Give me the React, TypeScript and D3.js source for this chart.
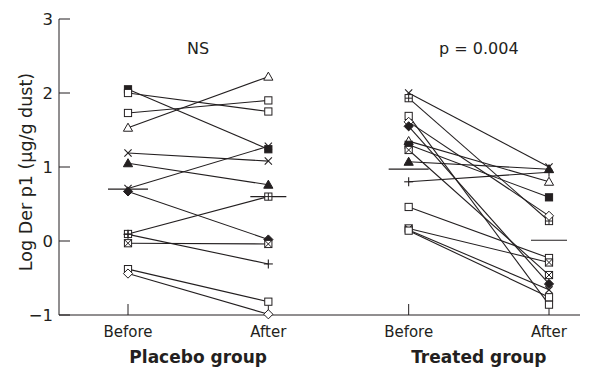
import React from "react";
import * as d3 from "d3";

const groupNames = ["Placebo group", "Treated group"];
const timeLabels = ["Before", "After"];
const yTicks = [-1, 0, 1, 2, 3];
const pValueLabels = ["NS", "p = 0.004"];

const placeboBefore = [2.05, 2.0, 1.73, 1.53, 1.19, 1.05, 0.71, 0.67, 0.095, 0.09, -0.03, -0.38, -0.44];
const placeboAfter = [1.24, 1.75, 1.9, 2.22, 1.08, 0.76, 1.28, 0.02, 0.6, -0.31, -0.04, -0.82, -0.99];
const placeboSymbols = ["sqf", "sq", "sq", "tri", "x", "trif", "x", "diaf", "sqplus", "plus", "sqx", "sq", "dia"];
const placeboMedians = [0.7, 0.6];

const treatedBefore = [2.0, 1.93, 1.69, 1.61, 1.55, 1.35, 1.3, 1.23, 1.07, 0.8, 0.46, 0.17, 0.15, 0.14];
const treatedAfter = [1.0, 0.27, -0.86, 0.34, -0.58, 0.8, 0.59, -0.46, 0.97, 0.93, -0.23, -0.29, -0.66, -0.76];
const treatedSymbols = ["x", "sqplus", "sq", "dia", "diaf", "tri", "sqf", "sqx", "trif", "plus", "sq", "sqx", "x", "sq"];
const treatedMedians = [0.97, 0.01];

const W = 605;
const H = 371;
const INK = "#231f20";
const FONT = "'DejaVu Sans', sans-serif";

function Sym({ type, x, y }: { type: string; x: number; y: number }) {
  const s = 3.6;
  const sw = 1;
  switch (type) {
    case "sq":
    case "sqf":
      return <rect x={x - s} y={y - s} width={2 * s} height={2 * s} fill={type === "sqf" ? INK : "white"} stroke={INK} strokeWidth={sw} />;
    case "sqplus":
      return (
        <g stroke={INK} strokeWidth={sw}>
          <rect x={x - s} y={y - s} width={2 * s} height={2 * s} fill="white" />
          <line x1={x - s} x2={x + s} y1={y} y2={y} />
          <line x1={x} x2={x} y1={y - s} y2={y + s} />
        </g>
      );
    case "sqx":
      return (
        <g stroke={INK} strokeWidth={sw}>
          <rect x={x - s} y={y - s} width={2 * s} height={2 * s} fill="white" />
          <line x1={x - s} x2={x + s} y1={y - s} y2={y + s} />
          <line x1={x - s} x2={x + s} y1={y + s} y2={y - s} />
        </g>
      );
    case "tri":
    case "trif": {
      const t = 4.6;
      const p = `M${x},${y - t} L${x + t},${y + t * 0.75} L${x - t},${y + t * 0.75} Z`;
      return <path d={p} fill={type === "trif" ? INK : "white"} stroke={INK} strokeWidth={sw} />;
    }
    case "dia":
    case "diaf": {
      const t = 4.6;
      const p = `M${x},${y - t} L${x + t},${y} L${x},${y + t} L${x - t},${y} Z`;
      return <path d={p} fill={type === "diaf" ? INK : "white"} stroke={INK} strokeWidth={sw} />;
    }
    case "x": {
      const t = 3.6;
      return (
        <g stroke={INK} strokeWidth={1.1}>
          <line x1={x - t} x2={x + t} y1={y - t} y2={y + t} />
          <line x1={x - t} x2={x + t} y1={y + t} y2={y - t} />
        </g>
      );
    }
    case "plus": {
      const t = 4.5;
      return (
        <g stroke={INK} strokeWidth={1.1}>
          <line x1={x - t} x2={x + t} y1={y} y2={y} />
          <line x1={x} x2={x} y1={y - t} y2={y + t} />
        </g>
      );
    }
    default:
      return null;
  }
}

export default function App() {
  const y = d3.scaleLinear().domain([-1, 3]).range([315, 19]);
  const x = d3
    .scalePoint<string>()
    .domain(["P-Before", "P-After", "T-Before", "T-After"])
    .range([128, 549]);
  const axisX0 = 59;
  const axisX1 = 580;

  const groups = [
    { name: groupNames[0], before: placeboBefore, after: placeboAfter, sym: placeboSymbols, med: placeboMedians, key: "P", label: pValueLabels[0] },
    { name: groupNames[1], before: treatedBefore, after: treatedAfter, sym: treatedSymbols, med: treatedMedians, key: "T", label: pValueLabels[1] },
  ];

  return (
    <svg width={W} height={H} style={{ display: "block", position: "absolute", left: 0, top: 0 }}>
      <rect width={W} height={H} fill="white" />
      {/* y axis */}
      <line x1={axisX0} x2={axisX0} y1={y(3)} y2={y(-1)} stroke={INK} strokeWidth={1} />
      {yTicks.map((t) => (
        <g key={t}>
          <line x1={axisX0} x2={axisX0 + 11} y1={y(t)} y2={y(t)} stroke={INK} strokeWidth={1} />
          <text x={53} y={y(t) + 6} textAnchor="end" fontFamily={FONT} fontSize={16.5} fill={INK}>
            {t < 0 ? `\u2212${Math.abs(t)}` : t}
          </text>
        </g>
      ))}
      <text
        transform={`translate(32,172) rotate(-90)`}
        textAnchor="middle"
        fontFamily={FONT}
        fontSize={17.5}
        fill={INK}
      >
        Log Der p1 (μg/g dust)
      </text>
      {/* x axis */}
      <line x1={axisX0} x2={axisX1} y1={y(-1)} y2={y(-1)} stroke={INK} strokeWidth={1} />
      {groups.map((g) => {
        const xb = x(`${g.key}-Before`)!;
        const xa = x(`${g.key}-After`)!;
        return (
          <g key={g.key}>
            {[xb, xa].map((xx, i) => (
              <g key={i}>
                <line x1={xx} x2={xx} y1={y(-1)} y2={y(-1) - 11} stroke={INK} strokeWidth={1} />
                <text x={xx} y={y(-1) + 22} textAnchor="middle" fontFamily={FONT} fontSize={15} fill={INK}>
                  {timeLabels[i]}
                </text>
              </g>
            ))}
            <text x={(xb + xa) / 2} y={y(-1) + 48} textAnchor="middle" fontFamily={FONT} fontSize={17} fontWeight="bold" fill={INK}>
              {g.name}
            </text>
            <text x={(xb + xa) / 2} y={54} textAnchor="middle" fontFamily={FONT} fontSize={16} fill={INK}>
              {g.label}
            </text>
            {g.before.map((b, i) => (
              <line key={i} x1={xb} y1={y(b)} x2={xa} y2={y(g.after[i])} stroke={INK} strokeWidth={1.1} />
            ))}
            <line x1={xb - 20} x2={xb + 20} y1={y(g.med[0])} y2={y(g.med[0])} stroke={INK} strokeWidth={1.2} />
            <line x1={xa - 18} x2={xa + 18} y1={y(g.med[1])} y2={y(g.med[1])} stroke={INK} strokeWidth={1.2} />
            {g.before.map((b, i) => (
              <Sym key={`b${i}`} type={g.sym[i]} x={xb} y={y(b)} />
            ))}
            {g.after.map((a, i) => (
              <Sym key={`a${i}`} type={g.sym[i]} x={xa} y={y(a)} />
            ))}
          </g>
        );
      })}
    </svg>
  );
}
